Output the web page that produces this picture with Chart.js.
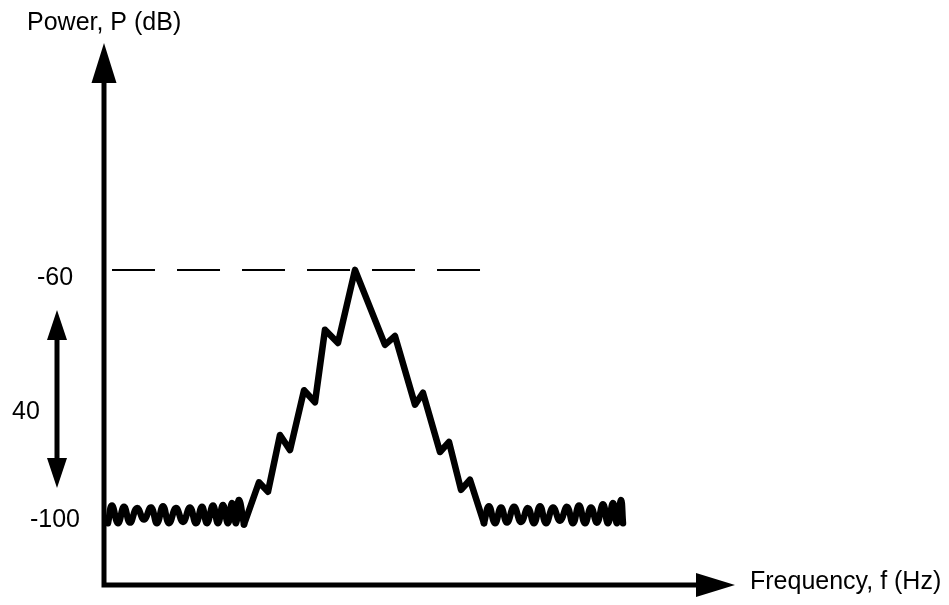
<!DOCTYPE html>
<html>
<head>
<meta charset="utf-8">
<script src="https://cdn.jsdelivr.net/npm/chart.js@4"></script>
<style>
  html, body { margin: 0; padding: 0; background: #fff; }
  #wrap { width: 949px; height: 605px; }
</style>
</head>
<body>
<div id="wrap"><canvas id="chart_spectrum" width="949" height="605"></canvas></div>
<script>
//Spectrum sketch: power vs frequency

//noise floor left of the peak (frequency in arbitrary units, power in dB)
var noiseLeftF = [0.63, 1.27, 2.22, 3.17, 4.12, 5.23, 6.34, 7.45, 8.40, 9.35, 10.30, 11.41, 12.52,
                  13.63, 14.58, 15.53, 16.32, 17.27, 18.07, 18.86, 19.65, 20.29, 20.92, 21.39, 22.19];
var noiseLeftP = [-100.2, -97.4, -100.2, -97.6, -100.1, -97.8, -99.6, -97.7, -100.2, -97.5, -100.2, -97.8, -100.0,
                  -97.7, -100.2, -97.6, -100.2, -97.4, -100.2, -97.3, -100.2, -97.0, -100.2, -96.5, -100.4];

//staircase up to the peak and back down
var slopeF = [22.19, 24.56, 25.99, 27.89, 29.48, 31.70, 33.44, 35.02, 37.08, 39.78,
              44.53, 46.12, 49.29, 50.55, 53.25, 54.68, 56.58, 58.00, 60.22];
var slopeP = [-100.4, -93.7, -95.2, -86.2, -88.6, -79.1, -81.0, -69.5, -71.6, -60.0,
              -71.9, -70.5, -81.4, -79.5, -88.9, -87.3, -94.9, -93.3, -100.2];

//noise floor right of the peak
var noiseRightF = [60.22, 61.01, 61.97, 62.92, 63.87, 64.98, 66.09, 67.19, 68.15, 69.10, 70.05, 71.16, 72.27,
                   73.38, 74.33, 75.28, 76.23, 77.18, 78.13, 79.08, 79.87, 80.67, 81.30, 81.93, 82.25];
var noiseRightP = [-100.2, -97.5, -100.2, -97.7, -100.1, -97.6, -100.0, -97.8, -100.2, -97.5, -100.2, -97.7, -99.8,
                   -97.6, -100.2, -97.4, -100.2, -97.7, -100.1, -97.2, -100.2, -97.0, -100.2, -96.5, -100.2];

//dashed reference level
var refLevel = -60;
var refF = [1.27, 59.6];

//labels on the power axis and the span marker
var tickValues = [-60, -100];
var tickNudge = [8, -2];
var spanLabel = "40";
var yTitle = "Power, P (dB)";
var xTitle = "Frequency, f (Hz)";

function toPoints(xs, ys) {
    var pts = [];
    xs.forEach(function (x, i) { pts.push({ x: x, y: ys[i] }); });
    return pts;
}

var FONT = '25px "Liberation Sans", Arial, sans-serif';

function arrowHead(ctx, tipX, tipY, dir, len, half) {
    ctx.beginPath();
    if (dir === "up") {
        ctx.moveTo(tipX, tipY); ctx.lineTo(tipX - half, tipY + len); ctx.lineTo(tipX + half, tipY + len);
    } else if (dir === "down") {
        ctx.moveTo(tipX, tipY); ctx.lineTo(tipX - half, tipY - len); ctx.lineTo(tipX + half, tipY - len);
    } else {
        ctx.moveTo(tipX, tipY); ctx.lineTo(tipX - len, tipY - half); ctx.lineTo(tipX - len, tipY + half);
    }
    ctx.closePath();
    ctx.fill();
}

//draws the arrowed axes, titles, tick labels and the 40 dB span marker
var sketchAxes = {
    id: "sketchAxes",
    beforeDatasetsDraw: function (chart) {
        var ctx = chart.ctx;
        var a = chart.chartArea;
        var ys = chart.scales.y;
        ctx.save();
        ctx.fillStyle = "#000";
        ctx.strokeStyle = "#000";

        //axes
        ctx.lineWidth = 5;
        ctx.lineJoin = "miter";
        ctx.beginPath();
        ctx.moveTo(a.left, a.top + 38);
        ctx.lineTo(a.left, a.bottom);
        ctx.lineTo(a.right - 37, a.bottom);
        ctx.stroke();
        arrowHead(ctx, a.left, a.top, "up", 40, 12.5);
        arrowHead(ctx, a.right, a.bottom, "right", 39, 12);

        //titles
        ctx.font = FONT;
        ctx.textAlign = "left";
        ctx.textBaseline = "alphabetic";
        ctx.fillText(yTitle, 27, 30);
        ctx.textBaseline = "middle";
        ctx.fillText(xTitle, a.right + 15, a.bottom - 3);

        //tick labels
        ctx.textAlign = "center";
        tickValues.forEach(function (v, i) {
            ctx.fillText(String(v), 55, ys.getPixelForValue(v) + tickNudge[i]);
        });

        //span marker between the two levels
        var top = ys.getPixelForValue(tickValues[0]) + 40;
        var bot = ys.getPixelForValue(tickValues[1]) - 34;
        ctx.lineWidth = 5;
        ctx.beginPath();
        ctx.moveTo(57, top + 20);
        ctx.lineTo(57, bot - 20);
        ctx.stroke();
        arrowHead(ctx, 57, top, "up", 30, 10);
        arrowHead(ctx, 57, bot, "down", 30, 10);
        ctx.fillText(spanLabel, 26, (top + bot) / 2 + 13);
        ctx.restore();
    }
};

var lineStyle = {
    borderColor: "#000",
    borderWidth: 6.5,
    pointRadius: 0,
    borderJoinStyle: "round",
    borderCapStyle: "round",
    fill: false
};

var ctxSpec = document.getElementById("chart_spectrum").getContext("2d");
var chartSpec = new Chart(ctxSpec, {
    type: "line",
    data: {
        datasets: [
            Object.assign({ data: toPoints(refF, [refLevel, refLevel]), borderDash: [43, 22] }, lineStyle,
                { borderWidth: 2, borderCapStyle: "butt" }),
            Object.assign({ data: toPoints(noiseLeftF, noiseLeftP), tension: 0.45 }, lineStyle),
            Object.assign({ data: toPoints(slopeF, slopeP), tension: 0 }, lineStyle),
            Object.assign({ data: toPoints(noiseRightF, noiseRightP), tension: 0.45 }, lineStyle)
        ]
    },
    options: {
        responsive: false,
        animation: false,
        layout: { padding: { left: 104, top: 43, right: 214, bottom: 20 } },
        plugins: { legend: { display: false }, tooltip: { enabled: false } },
        scales: {
            x: { type: "linear", min: 0, max: 100, display: false },
            y: { min: -110, max: -24, display: false }
        }
    },
    plugins: [sketchAxes]
});
</script>
</body>
</html>
